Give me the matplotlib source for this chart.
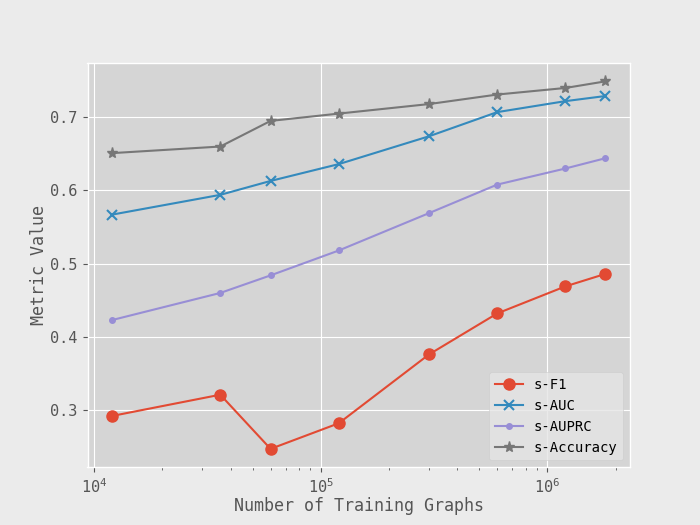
import matplotlib
matplotlib.use("Agg")
import matplotlib.pyplot as plt

plt.style.use("ggplot")
plt.rcParams['font.family'] = ['DejaVu Sans Mono', 'DejaVu Sans']

# training set sizes and metric values
n_graphs = [12000, 36000, 60000, 120000, 300000, 600000, 1200000, 1800000]
s_f1 = [0.292, 0.321, 0.247, 0.282, 0.376, 0.432, 0.469, 0.486]
s_auc = [0.567, 0.594, 0.613, 0.636, 0.674, 0.707, 0.722, 0.729]
s_auprc = [0.423, 0.460, 0.484, 0.518, 0.569, 0.608, 0.630, 0.644]
s_acc = [0.651, 0.660, 0.695, 0.705, 0.718, 0.731, 0.740, 0.749]

fig = plt.figure(figsize=(7, 5.25), dpi=100, facecolor='#ebebeb')
ax = fig.add_subplot(111)
ax.set_facecolor('#d5d5d5')

ax.plot(n_graphs, s_f1, marker='o', markersize=8, label='s-F1')
ax.plot(n_graphs, s_auc, marker='x', markersize=7, markeredgewidth=1.5, label='s-AUC')
ax.plot(n_graphs, s_auprc, marker='.', markersize=8, label='s-AUPRC')
ax.plot(n_graphs, s_acc, marker='*', markersize=8, label='s-Accuracy')

ax.set_xscale('log')
ax.set_xlabel('Number of Training Graphs', fontsize=12, labelpad=1)
ax.set_ylabel('Metric Value', fontsize=12, labelpad=2)
ax.tick_params(labelsize=11)
ax.legend(loc='lower right', fontsize=10)

fig.savefig('out.png', dpi=100, facecolor=fig.get_facecolor())
